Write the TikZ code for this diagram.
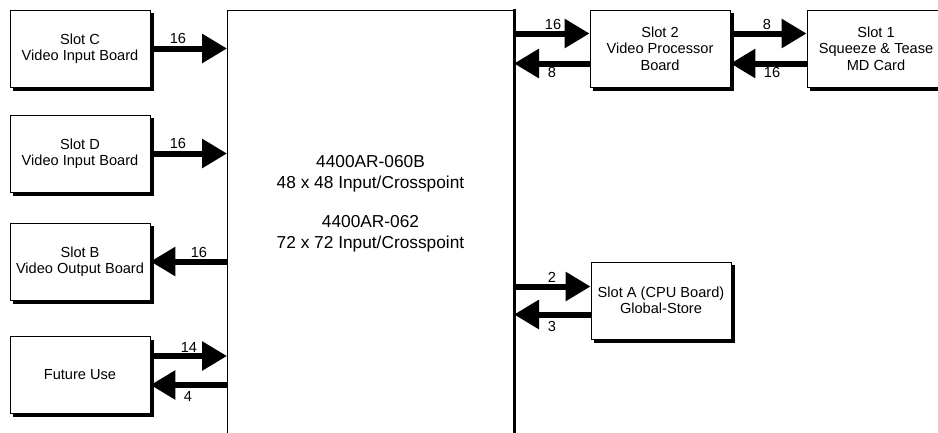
\documentclass[tikz,border=0pt]{standalone}
\usepackage{fontspec}
\setmainfont{Liberation Sans}
\usetikzlibrary{arrows.meta,calc,backgrounds}
\begin{document}
\begin{tikzpicture}[x=1pt,y=-1pt,
  board/.style={draw, line width=0.9pt, fill=white, minimum width=140pt, minimum height=77pt,
    align=center, inner sep=0pt, font=\fontsize{14.6}{16.5}\selectfont},
  shade/.style={fill=black},
  bus/.style={line width=6pt, -{Triangle[length=25pt,width=28pt]}},
  lbl/.style={font=\fontsize{14.6}{16.5}\selectfont, inner sep=0pt},
  maintxt/.style={font=\fontsize{17.3}{21}\selectfont, align=center, inner sep=0pt}]
\useasboundingbox (0,0) rectangle (938,432);
% main crosspoint block
\coordinate (ML) at (227,0);
\coordinate (MR) at (514,0);
\draw[line width=1pt] (227,440) -- (227,10) -- (514,10);
\draw[line width=3pt] (514,8.5) -- (514,440);
\node[maintxt] (t1) at (370.5,174) {4400AR-060B\\48 x 48 Input/Crosspoint};
\node[maintxt] (t2) at (370.5,234) {4400AR-062\\72 x 72 Input/Crosspoint};
% boards
\node[board] (C) at (80,48.5) {Slot C\\Video Input Board};
\node[board] (D) at (80,153.5) {Slot D\\Video Input Board};
\node[board] (B) at (80,261.5) {Slot B\\Video Output Board};
\node[board] (F) at (80,375) {Future Use};
\node[board] (S2) at (660,48.5) {Slot 2\\Video Processor\\Board};
\node[board, minimum width=138pt] (S1) at (876,48.5) {Slot 1\\Squeeze \& Tease\\MD Card};
\node[board] (SA) at (661,300.5) {Slot A (CPU Board)\\Global-Store};
% shadows
\begin{scope}[on background layer]
\foreach \n in {C,D,B,F,S2,S1,SA}
  \fill[shade] ($(\n.north west)+(3.5,3.5)$) rectangle ($(\n.south east)+(3.5,3.5)$);
\end{scope}
% buses
\draw[bus] (C.east) -- (C.east -| ML);
\draw[bus] (D.east) -- (D.east -| ML);
\draw[bus] (B.east -| ML) -- (B.east);
\draw[bus] ($(F.east)+(0,-19)$) -- ($(F.east -| ML)+(0,-19)$);
\draw[bus] ($(F.east -| ML)+(0,10)$) -- ($(F.east)+(0,10)$);
\draw[bus] ($(S2.west -| MR)+(0,-15)$) -- ($(S2.west)+(0,-15)$);
\draw[bus] ($(S2.west)+(0,15)$) -- ($(S2.west -| MR)+(0,15)$);
\draw[bus] ($(S2.east)+(0,-15)$) -- ($(S1.west)+(0,-15)$);
\draw[bus] ($(S1.west)+(0,15)$) -- ($(S2.east)+(0,15)$);
\draw[bus] ($(SA.west -| MR)+(0,-14)$) -- ($(SA.west)+(0,-14)$);
\draw[bus] ($(SA.west)+(0,14)$) -- ($(SA.west -| MR)+(0,14)$);
% labels
\node[lbl] (lc) at (178,38) {16};
\node[lbl] (ld) at (178,143) {16};
\node[lbl] (lb) at (199,252) {16};
\node[lbl] (lf1) at (189,347) {14};
\node[lbl] (lf2) at (188,396) {4};
\node[lbl] (l21) at (553,24) {16};
\node[lbl] (l22) at (552,72) {8};
\node[lbl] (l11) at (767,24) {8};
\node[lbl] (l12) at (772,72) {16};
\node[lbl] (la1) at (552,277) {2};
\node[lbl] (la2) at (552,326) {3};
\end{tikzpicture}
\end{document}
